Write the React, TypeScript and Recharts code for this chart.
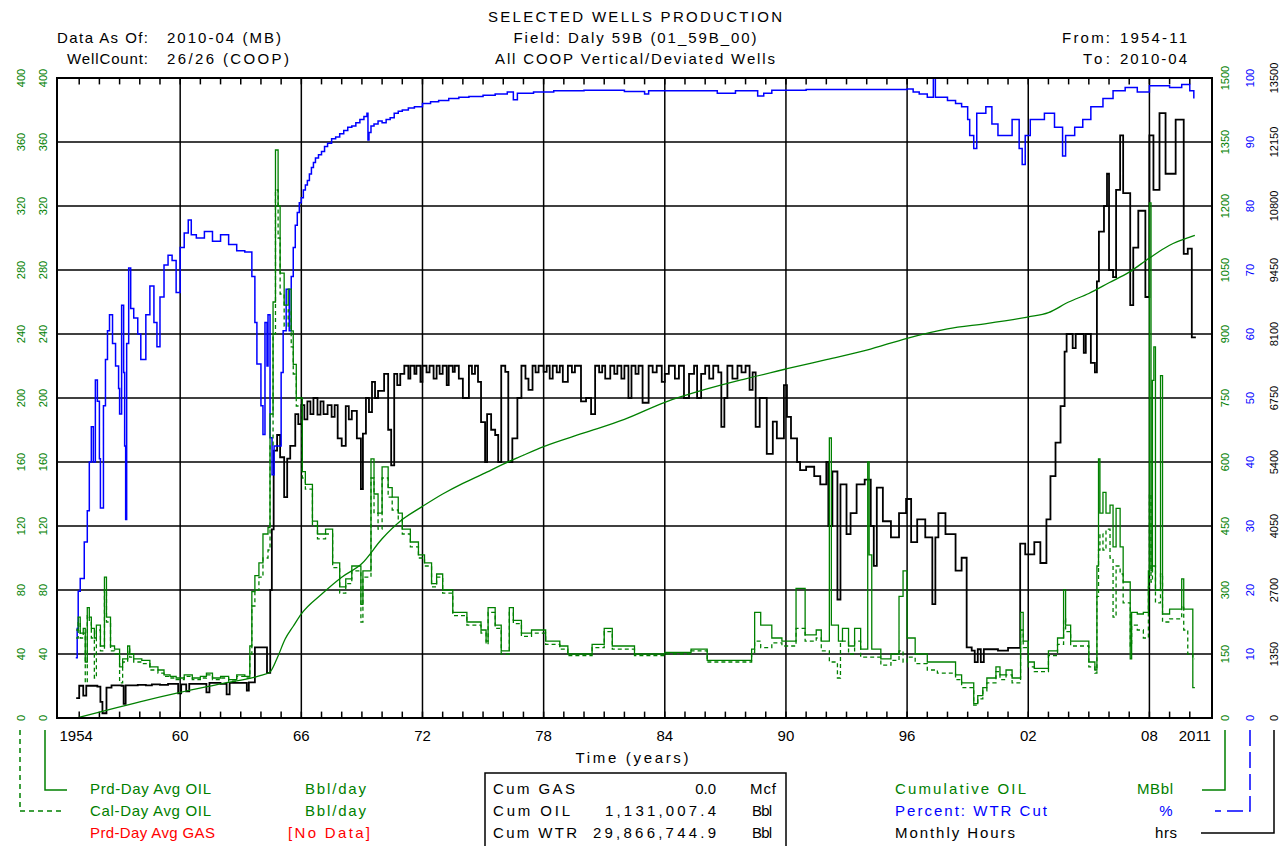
import { ComposedChart, Line, XAxis, YAxis, ReferenceLine } from 'recharts';

const W = 1273;
const H = 838;
const GREEN = '#008000';
const BLUE = '#0000ff';
const RED = '#ff0000';
const FONT = '"Liberation Sans", Arial, sans-serif';

// axis ticks
const OIL_TICKS = [0, 40, 80, 120, 160, 200, 240, 280, 320, 360, 400];
const CUM_TICKS = [0, 150, 300, 450, 600, 750, 900, 1050, 1200, 1350, 1500];
const WTR_TICKS = [0, 10, 20, 30, 40, 50, 60, 70, 80, 90, 100];
const HRS_TICKS = [0, 1350, 2700, 4050, 5400, 6750, 8100, 9450, 10800, 12150, 13500];
const X_LABEL_POS = [1954.85, 1960, 1966, 1972, 1978, 1984, 1990, 1996, 2002, 2008, 2010.25];
const X_LABEL_TEXT = ['1954', '60', '66', '72', '78', '84', '90', '96', '02', '08', '2011'];
const GRID_YEARS = [1960, 1966, 1972, 1978, 1984, 1990, 1996, 2002, 2008];
const MINOR_YEARS = Array.from({ length: 56 }, (_, i) => 1955 + i);

// Monthly Hours (hrs)
const HOURS: [number, number][] = [
  [1954.85, 420], [1955.0, 680], [1955.2, 470], [1955.35, 680], [1955.9, 660], [1956.05, 340], [1956.15, 100],
  [1956.35, 640], [1956.6, 690], [1957.1, 680], [1957.2, 300], [1957.3, 690], [1957.9, 700], [1958.3, 690],
  [1958.6, 710], [1959.0, 700], [1959.4, 720], [1959.9, 520], [1960.05, 710], [1960.3, 560], [1960.45, 720],
  [1961.0, 720], [1961.3, 540], [1961.45, 740], [1962.0, 720], [1962.3, 500], [1962.45, 740], [1963.0, 740],
  [1963.3, 580], [1963.4, 750], [1963.7, 1490], [1964.3, 950], [1964.46, 2700], [1964.54, 3980], [1964.63, 5640],
  [1964.8, 5970], [1964.95, 5500], [1965.15, 4660], [1965.3, 5470], [1965.45, 5740], [1965.7, 6410], [1965.85, 6200],
  [1966.0, 6600], [1966.15, 6300], [1966.3, 6680], [1966.45, 6410], [1966.6, 6750], [1966.8, 6400], [1966.95, 6680],
  [1967.1, 6410], [1967.3, 6600], [1967.5, 6350], [1967.65, 6600], [1967.8, 5900], [1968.0, 5740], [1968.2, 6580],
  [1968.35, 6300], [1968.5, 6480], [1968.75, 5900], [1968.95, 4830], [1969.05, 6000], [1969.2, 6750], [1969.35, 6450],
  [1969.5, 7090], [1969.65, 6750], [1969.8, 6900], [1970.1, 7260], [1970.3, 6080], [1970.45, 5330], [1970.6, 7260],
  [1970.75, 7020], [1970.9, 7260], [1971.1, 7430], [1971.3, 7160], [1971.4, 7430], [1971.6, 7260], [1971.7, 7430],
  [1971.9, 7090], [1972.0, 7430], [1972.2, 7290], [1972.35, 7430], [1972.55, 7160], [1972.7, 7430], [1972.85, 7260],
  [1973.0, 7430], [1973.2, 7020], [1973.3, 7430], [1973.5, 7300], [1973.6, 7430], [1973.8, 7160], [1974.0, 6750],
  [1974.3, 7430], [1974.45, 7260], [1974.6, 7430], [1974.75, 7090], [1974.9, 6240], [1975.1, 5400], [1975.2, 6410],
  [1975.4, 6080], [1975.6, 5970], [1975.75, 5400], [1975.9, 7430], [1976.1, 7300], [1976.25, 5400], [1976.45, 5900],
  [1976.7, 6750], [1976.9, 7430], [1977.1, 7160], [1977.25, 6920], [1977.45, 7430], [1977.6, 7290], [1977.75, 7430],
  [1978.0, 7300], [1978.15, 7430], [1978.3, 7160], [1978.45, 7430], [1978.65, 7290], [1978.8, 7430], [1978.95, 7090],
  [1979.2, 7430], [1979.4, 7290], [1979.55, 7430], [1979.85, 6680], [1980.1, 6750], [1980.35, 6410], [1980.55, 7430],
  [1980.75, 7290], [1980.9, 7430], [1981.05, 7160], [1981.3, 7430], [1981.5, 7260], [1981.65, 7430], [1981.85, 7160],
  [1982.0, 7430], [1982.2, 6750], [1982.35, 7430], [1982.55, 7260], [1982.7, 7430], [1982.9, 6650], [1983.2, 7430],
  [1983.4, 7290], [1983.6, 7430], [1983.85, 7090], [1984.0, 7260], [1984.2, 7430], [1984.5, 7160], [1984.7, 7430],
  [1984.95, 6750], [1985.2, 7260], [1985.45, 7430], [1985.6, 6750], [1985.8, 7260], [1986.0, 7430], [1986.2, 7160],
  [1986.4, 7430], [1986.65, 7290], [1986.8, 6140], [1986.95, 6750], [1987.1, 7430], [1987.35, 7160], [1987.6, 7430],
  [1987.8, 7290], [1988.0, 7430], [1988.2, 6920], [1988.35, 7290], [1988.5, 6140], [1988.7, 6750], [1989.05, 5570],
  [1989.35, 6250], [1989.55, 5900], [1989.9, 7020], [1990.05, 6350], [1990.25, 5900], [1990.55, 5400], [1990.7, 5230],
  [1991.0, 5300], [1991.4, 5100], [1991.7, 4930], [1992.0, 5400], [1992.1, 4050], [1992.3, 5200], [1992.55, 2500],
  [1992.7, 4930], [1993.0, 3880], [1993.2, 4320], [1993.5, 4930], [1993.9, 5030], [1994.2, 4050], [1994.35, 3210],
  [1994.5, 4860], [1994.8, 4150], [1995.2, 3810], [1995.6, 4320], [1995.95, 4620], [1996.2, 3710], [1996.5, 4190],
  [1996.9, 3810], [1997.25, 2400], [1997.4, 3810], [1997.55, 4320], [1997.9, 3880], [1998.4, 3110], [1998.7, 3380],
  [1998.95, 1490], [1999.2, 1420], [1999.35, 1180], [1999.5, 1450], [1999.65, 1180], [1999.8, 1450], [2000.5, 1420],
  [2001.0, 1480], [2001.6, 3680], [2001.85, 3450], [2002.3, 3710], [2002.6, 3270], [2002.9, 4190], [2003.1, 5100],
  [2003.35, 5810], [2003.6, 6580], [2003.8, 7730], [2003.9, 8100], [2004.2, 7800], [2004.35, 8100], [2004.75, 7700],
  [2004.85, 8100], [2005.1, 7490], [2005.3, 7290], [2005.4, 9210], [2005.5, 10260], [2005.75, 10800], [2005.9, 11480],
  [2006.0, 9450], [2006.2, 9300], [2006.35, 11140], [2006.55, 12290], [2006.7, 11070], [2007.05, 8710], [2007.2, 9920],
  [2007.45, 10700], [2007.8, 8880], [2008.0, 12290], [2008.2, 11140], [2008.5, 12760], [2008.8, 11480],
  [2009.3, 12620], [2009.7, 9790], [2009.9, 9900], [2010.1, 8030], [2010.3, 8030],
];

// Percent: WTR Cut (%)
const WTR_CUT: [number, number][] = [
  [1954.83, 9.4], [1954.9, 14], [1954.95, 19.8], [1955.05, 21.8], [1955.25, 27.5], [1955.4, 32.4], [1955.5, 40],
  [1955.6, 45.5], [1955.7, 40], [1955.8, 52.8], [1955.9, 49.5], [1956.0, 40.5], [1956.05, 32.8], [1956.2, 48.8],
  [1956.3, 56], [1956.4, 60.5], [1956.5, 63], [1956.65, 58.5], [1956.8, 55], [1956.95, 51.5], [1957.0, 47.5],
  [1957.1, 64.5], [1957.2, 54], [1957.25, 42.5], [1957.3, 31], [1957.35, 58.5], [1957.45, 70.3], [1957.55, 64],
  [1957.7, 62.5], [1957.9, 60], [1958.05, 56], [1958.3, 63], [1958.5, 67.5], [1958.7, 61.8], [1958.85, 58],
  [1959.0, 65.8], [1959.2, 70.8], [1959.4, 72.3], [1959.6, 71.5], [1959.8, 66.5], [1960.0, 73.5], [1960.2, 75.8],
  [1960.4, 77.8], [1960.55, 75.5], [1960.8, 75], [1961.2, 76], [1961.6, 74.5], [1962.0, 75.5], [1962.4, 74],
  [1962.8, 73], [1963.2, 72.8], [1963.55, 69], [1963.7, 61.8], [1963.8, 55.3], [1964.0, 48.8], [1964.1, 44.3],
  [1964.2, 61.8], [1964.3, 55], [1964.35, 63], [1964.45, 43.8], [1964.55, 38], [1964.65, 42.5], [1964.9, 42.5],
  [1965.0, 54], [1965.1, 60.5], [1965.25, 67], [1965.4, 60.5], [1965.5, 69], [1965.6, 73.5], [1965.7, 77],
  [1965.8, 79], [1965.9, 80.5], [1966.0, 81.3], [1966.1, 82.5], [1966.2, 83.3], [1966.3, 84], [1966.4, 85],
  [1966.5, 86], [1966.6, 86.8], [1966.7, 87.5], [1966.85, 88], [1967.0, 88.5], [1967.15, 89.3], [1967.3, 89.8],
  [1967.5, 90.5], [1967.7, 90.8], [1967.9, 91.3], [1968.1, 91.8], [1968.3, 92.3], [1968.5, 92.5], [1968.7, 93],
  [1968.9, 93.5], [1969.1, 94], [1969.25, 94.5], [1969.3, 90.3], [1969.35, 91.5], [1969.45, 92.5], [1969.6, 92.8],
  [1969.8, 93.3], [1970.0, 93], [1970.2, 93.5], [1970.4, 93.8], [1970.6, 94.5], [1970.8, 94.8], [1971.0, 95],
  [1971.3, 95.3], [1971.6, 95.5], [1972.0, 96], [1972.4, 96.3], [1972.8, 96.5], [1973.3, 96.8], [1973.8, 97],
  [1974.3, 97.1], [1975.0, 97.3], [1975.6, 97.5], [1976.2, 97.8], [1976.5, 96.6], [1976.7, 97.6], [1977.5, 97.8],
  [1978.5, 98], [1980.0, 98.1], [1982.0, 97.9], [1983.0, 97.5], [1983.2, 98], [1986.6, 97.6], [1987.5, 98],
  [1988.6, 97.2], [1988.9, 97.6], [1989.3, 98.1], [1991.0, 98.2], [1996.0, 98.3], [1996.3, 97.8], [1996.6, 97.5],
  [1997.0, 97], [1997.3, 100], [1997.4, 97], [1998.0, 96.5], [1998.4, 96], [1998.7, 95.5], [1999.0, 93.5],
  [1999.1, 91], [1999.3, 89], [1999.45, 94.5], [1999.9, 95.5], [2000.2, 92.8], [2000.5, 91], [2001.2, 93.5],
  [2001.55, 89], [2001.7, 86.5], [2001.85, 91], [2002.1, 93.5], [2002.8, 94.5], [2003.3, 92.3], [2003.7, 87.8],
  [2003.85, 91], [2004.3, 92.3], [2004.7, 93.5], [2005.1, 95.5], [2005.7, 96.8], [2006.2, 98], [2006.8, 98.5],
  [2007.4, 97.8], [2008.0, 98.8], [2009.0, 98.5], [2009.6, 99], [2010.0, 98], [2010.2, 96.8],
];

// Cumulative OIL (MBbl)
const CUM_OIL: [number, number][] = [
  [1954.85, 0], [1956, 14], [1958, 38], [1960, 60], [1962, 80], [1964, 100], [1964.45, 108], [1964.8, 140],
  [1965.2, 185], [1965.6, 215], [1966, 244], [1967, 290], [1968, 330], [1969, 362], [1970, 420], [1971, 465],
  [1972, 496], [1973, 525], [1974, 550], [1975, 572], [1976, 595], [1977, 616], [1978, 636], [1980, 668],
  [1982, 700], [1984, 740], [1986, 770], [1988, 795], [1990, 818], [1992, 840], [1994, 862], [1996, 890],
  [1998, 912], [2000, 925], [2002, 940], [2003, 950], [2004, 975], [2005, 995], [2006, 1020], [2007, 1045],
  [2008, 1078], [2009, 1108], [2010, 1127], [2010.25, 1131],
];

// Prd-Day Avg OIL (Bbl/day)
const PRD_OIL: [number, number][] = [
  [1954.85, 55], [1954.95, 63], [1955.05, 53], [1955.2, 56], [1955.3, 35], [1955.4, 69], [1955.5, 63], [1955.6, 56],
  [1955.75, 50], [1955.85, 58], [1956.05, 45], [1956.25, 88], [1956.35, 63], [1956.55, 45], [1956.75, 43],
  [1957.0, 32], [1957.15, 37], [1957.4, 45], [1957.5, 40], [1957.7, 37], [1958.1, 36], [1958.5, 32], [1958.9, 30],
  [1959.2, 27], [1959.5, 26], [1959.8, 25], [1960.2, 27], [1960.6, 25], [1961.0, 26], [1961.3, 28], [1961.6, 25],
  [1962.0, 26], [1962.4, 24], [1962.8, 27], [1963.2, 26], [1963.45, 45], [1963.55, 79], [1963.7, 89], [1963.9, 97],
  [1964.1, 115], [1964.35, 119], [1964.45, 190], [1964.6, 260], [1964.72, 355], [1964.85, 320], [1964.95, 278],
  [1965.15, 258], [1965.35, 268], [1965.5, 242], [1965.6, 221], [1965.75, 200], [1966.05, 154], [1966.2, 146],
  [1966.55, 123], [1966.8, 115], [1967.2, 118], [1967.55, 97], [1967.9, 82], [1968.2, 87], [1968.5, 95],
  [1968.95, 71], [1969.05, 92], [1969.45, 162], [1969.6, 140], [1969.8, 128], [1970.0, 157], [1970.3, 144],
  [1970.5, 138], [1970.8, 128], [1971.0, 118], [1971.4, 110], [1971.8, 102], [1972.1, 97], [1972.45, 84],
  [1972.7, 90], [1973.0, 80], [1973.5, 66], [1974.2, 60], [1974.9, 55], [1975.15, 48], [1975.25, 69], [1975.6, 58],
  [1975.9, 42], [1976.3, 69], [1976.5, 61], [1976.9, 53], [1977.4, 55], [1978.1, 48], [1978.8, 45], [1979.2, 40],
  [1980.4, 46], [1981.0, 56], [1981.4, 45], [1982.5, 40], [1984.0, 41], [1985.3, 43], [1986.1, 36], [1988.3, 43],
  [1988.45, 66], [1988.75, 58], [1989.3, 50], [1989.8, 48], [1990.5, 81], [1990.95, 52], [1991.5, 55], [1991.75, 48],
  [1992.15, 175], [1992.25, 58], [1992.6, 48], [1992.8, 56], [1993.1, 45], [1993.4, 56], [1993.7, 43], [1994.05, 160],
  [1994.12, 102], [1994.25, 43], [1994.7, 37], [1995.2, 40], [1995.6, 76], [1995.8, 92], [1996.0, 50], [1996.4, 40],
  [1997.0, 35], [1998.4, 27], [1998.7, 22], [1999.3, 9], [1999.5, 14], [1999.75, 19], [1999.95, 25], [2000.4, 32],
  [2000.6, 27], [2000.9, 30], [2001.2, 25], [2001.62, 66], [2001.75, 48], [2002.0, 35], [2002.3, 31], [2003.0, 42],
  [2003.45, 50], [2003.75, 80], [2003.85, 58], [2004.1, 48], [2005.0, 35], [2005.3, 30], [2005.4, 95], [2005.48, 162],
  [2005.55, 128], [2005.7, 141], [2005.85, 128], [2006.05, 133], [2006.2, 107], [2006.35, 131], [2006.55, 107],
  [2006.7, 85], [2007.05, 37], [2007.12, 66], [2007.4, 65], [2007.7, 66], [2007.95, 92], [2008.0, 322], [2008.08, 92],
  [2008.15, 211], [2008.22, 232], [2008.3, 80], [2008.55, 214], [2008.65, 65], [2009.0, 68], [2009.6, 87],
  [2009.7, 68], [2010.15, 19], [2010.25, 19],
];

// Cal-Day Avg OIL (Bbl/day)
const CAL_OIL: [number, number][] = [
  [1954.85, 50], [1954.95, 60], [1955.05, 50], [1955.2, 53], [1955.3, 22], [1955.4, 64], [1955.5, 60], [1955.6, 50],
  [1955.75, 25], [1955.85, 55], [1956.05, 42], [1956.25, 80], [1956.35, 60], [1956.55, 42], [1956.75, 40],
  [1957.0, 22], [1957.15, 35], [1957.4, 43], [1957.5, 38], [1957.7, 35], [1958.1, 34], [1958.5, 30], [1958.9, 28],
  [1959.2, 26], [1959.5, 25], [1959.8, 24], [1960.2, 26], [1960.6, 24], [1961.0, 25], [1961.3, 27], [1961.6, 24],
  [1962.0, 25], [1962.4, 23], [1962.8, 26], [1963.2, 25], [1963.45, 40], [1963.55, 70], [1963.7, 80], [1963.9, 88],
  [1964.1, 100], [1964.35, 105], [1964.45, 170], [1964.6, 240], [1964.72, 330], [1964.85, 300], [1964.95, 265],
  [1965.15, 245], [1965.35, 255], [1965.5, 232], [1965.6, 215], [1965.75, 195], [1966.05, 150], [1966.2, 143],
  [1966.55, 120], [1966.8, 112], [1967.2, 115], [1967.55, 94], [1967.9, 78], [1968.2, 84], [1968.5, 92],
  [1968.95, 60], [1969.05, 88], [1969.45, 150], [1969.6, 128], [1969.8, 118], [1970.0, 150], [1970.3, 138],
  [1970.5, 130], [1970.8, 124], [1971.0, 115], [1971.4, 107], [1971.8, 100], [1972.1, 95], [1972.45, 82],
  [1972.7, 88], [1973.0, 78], [1973.5, 64], [1974.2, 58], [1974.9, 53], [1975.15, 46], [1975.25, 66], [1975.6, 56],
  [1975.9, 40], [1976.3, 66], [1976.5, 59], [1976.9, 51], [1977.4, 53], [1978.1, 46], [1978.8, 43], [1979.2, 39],
  [1980.4, 44], [1981.0, 54], [1981.4, 43], [1982.5, 39], [1984.0, 40], [1985.3, 42], [1986.1, 35], [1988.3, 41],
  [1988.45, 48], [1988.75, 44], [1989.3, 47], [1989.8, 45], [1990.5, 56], [1990.95, 48], [1991.5, 50], [1991.75, 42],
  [1992.15, 35], [1992.55, 25], [1992.7, 48], [1993.1, 40], [1993.4, 48], [1993.7, 38], [1994.25, 38], [1994.7, 33],
  [1995.2, 36], [1995.6, 42], [1995.8, 35], [1996.0, 38], [1996.4, 34], [1997.0, 30], [1997.5, 28], [1998.4, 24],
  [1998.7, 19], [1999.3, 8], [1999.5, 12], [1999.75, 17], [1999.95, 22], [2000.4, 29], [2000.6, 24], [2000.9, 27],
  [2001.2, 22], [2001.62, 55], [2001.75, 44], [2002.0, 32], [2002.3, 29], [2003.0, 39], [2003.45, 46], [2003.75, 62],
  [2003.85, 54], [2004.1, 45], [2005.0, 32], [2005.3, 28], [2005.4, 76], [2005.48, 105], [2005.55, 115],
  [2005.7, 105], [2005.85, 118], [2006.05, 100], [2006.2, 63], [2006.35, 95], [2006.55, 90], [2006.7, 72],
  [2007.05, 45], [2007.12, 58], [2007.4, 55], [2007.7, 50], [2007.95, 82], [2008.0, 140], [2008.08, 85],
  [2008.15, 95], [2008.3, 72], [2008.55, 90], [2008.65, 60], [2009.0, 62], [2009.6, 70], [2009.7, 55],
  [2009.9, 40], [2010.15, 37], [2010.25, 37],
];

const toRows = (pts: [number, number][]) => pts.map(([t, v]) => ({ t, v }));

function YTick({ x, y, payload, dx, color }: any) {
  const cx = x + dx;
  return (
    <text
      x={cx}
      y={y}
      transform={`rotate(-90 ${cx} ${y})`}
      textAnchor="middle"
      dominantBaseline="central"
      fill={color}
      fontSize={11}
      fontFamily={FONT}
    >
      {payload.value}
    </text>
  );
}

function XTick({ x, y, payload }: any) {
  const i = X_LABEL_POS.indexOf(payload.value);
  return (
    <text x={x} y={y + 23} textAnchor="middle" fontSize={15} fontFamily={FONT} fill="#000">
      {i >= 0 ? X_LABEL_TEXT[i] : ''}
    </text>
  );
}

function Txt({ x, y, w, anchor = 'start', color = '#000', children }: any) {
  return (
    <text
      x={x}
      y={y}
      textLength={w}
      lengthAdjust={w ? 'spacing' : undefined}
      textAnchor={anchor}
      fill={color}
      fontSize={15}
      fontFamily={FONT}
    >
      {children}
    </text>
  );
}

function Overlay() {
  return (
    <svg width={W} height={H} style={{ position: 'absolute', left: 0, top: 0, pointerEvents: 'none' }}>
      <rect x={49} y={70} width={1155} height={640} fill="none" stroke="#000" strokeWidth={2} />

      <Txt x={627} y={14} w={294} anchor="middle">SELECTED WELLS PRODUCTION</Txt>
      <Txt x={627} y={35} w={243} anchor="middle">Field: Daly 59B (01_59B_00)</Txt>
      <Txt x={627} y={56} w={280} anchor="middle">All COOP Vertical/Deviated Wells</Txt>
      <Txt x={140} y={35} w={91} anchor="end">Data As Of:</Txt>
      <Txt x={159} y={35} w={114}>2010-04 (MB)</Txt>
      <Txt x={140} y={56} w={81} anchor="end">WellCount:</Txt>
      <Txt x={159} y={56} w={122}>26/26 (COOP)</Txt>
      <Txt x={1102} y={35} w={48} anchor="end">From:</Txt>
      <Txt x={1112} y={35} w={67}>1954-11</Txt>
      <Txt x={1102} y={56} w={27} anchor="end">To:</Txt>
      <Txt x={1112} y={56} w={67}>2010-04</Txt>

      <Txt x={624} y={755} w={113} anchor="middle">Time (years)</Txt>

      {/* left legend */}
      <polyline points="37,722 37,782 59,782" fill="none" stroke={GREEN} strokeWidth={1.5} />
      <polyline points="12,722 12,803 55,803" fill="none" stroke={GREEN} strokeWidth={1.5} strokeDasharray="5 4" />
      <Txt x={82} y={786} w={121} color={GREEN}>Prd-Day Avg OIL</Txt>
      <Txt x={297} y={786} w={61} color={GREEN}>Bbl/day</Txt>
      <Txt x={82} y={808} w={121} color={GREEN}>Cal-Day Avg OIL</Txt>
      <Txt x={297} y={808} w={61} color={GREEN}>Bbl/day</Txt>
      <Txt x={82} y={830} w={125} color={RED}>Prd-Day Avg GAS</Txt>
      <Txt x={280} y={830} w={82} color={RED}>[No Data]</Txt>

      {/* totals box */}
      <rect x={477} y={765} width={301} height={90} fill="none" stroke="#000" strokeWidth={1.5} />
      <Txt x={485} y={786} w={82}>Cum GAS</Txt>
      <Txt x={708} y={786} anchor="end">0.0</Txt>
      <Txt x={742} y={786} w={26}>Mcf</Txt>
      <Txt x={485} y={808} w={77}>Cum OIL</Txt>
      <Txt x={708} y={808} w={111} anchor="end">1,131,007.4</Txt>
      <Txt x={744} y={808} w={20}>Bbl</Txt>
      <Txt x={485} y={830} w={84}>Cum WTR</Txt>
      <Txt x={708} y={830} w={123} anchor="end">29,866,744.9</Txt>
      <Txt x={744} y={830} w={20}>Bbl</Txt>

      {/* right legend */}
      <Txt x={887} y={786} w={131} color={GREEN}>Cumulative OIL</Txt>
      <Txt x={1165} y={786} w={36} anchor="end" color={GREEN}>MBbl</Txt>
      <Txt x={887} y={808} w={152} color={BLUE}>Percent: WTR Cut</Txt>
      <Txt x={1158} y={808} anchor="middle" color={BLUE}>%</Txt>
      <Txt x={887} y={830} w={120}>Monthly Hours</Txt>
      <Txt x={1169} y={830} w={22} anchor="end">hrs</Txt>
      <polyline points="1217,722 1217,782 1194,782" fill="none" stroke={GREEN} strokeWidth={1.5} />
      <polyline points="1242,722 1242,803 1207,803" fill="none" stroke={BLUE} strokeWidth={1.5} strokeDasharray="16 6" />
      <polyline points="1266,722 1266,825 1193,825" fill="none" stroke="#000" strokeWidth={1.5} />
    </svg>
  );
}

export default function App() {
  return (
    <div style={{ position: 'fixed', left: 8, top: 8, width: W, height: H, background: '#fff' }}>
      <ComposedChart width={W} height={H} margin={{ top: 70, right: 0, bottom: 0, left: 0 }}>
        <XAxis
          dataKey="t"
          type="number"
          domain={[1953.9, 2011.1]}
          allowDataOverflow
          ticks={X_LABEL_POS}
          interval={0}
          tick={<XTick />}
          tickLine={false}
          axisLine={false}
          tickSize={0}
          tickMargin={0}
          height={128}
        />
        <YAxis yAxisId="a_cal" orientation="left" width={24} domain={[0, 400]} ticks={OIL_TICKS} interval={0}
          tick={<YTick dx={-14} color={GREEN} />} tickLine={false} axisLine={false} tickSize={0} tickMargin={0} />
        <YAxis yAxisId="b_prd" orientation="left" width={25} domain={[0, 400]} ticks={OIL_TICKS} interval={0}
          tick={<YTick dx={-12} color={GREEN} />} tickLine={false} axisLine={false} tickSize={0} tickMargin={0} />
        <YAxis yAxisId="c_cum" orientation="right" width={23} domain={[0, 1500]} ticks={CUM_TICKS} interval={0}
          tick={<YTick dx={13} color={GREEN} />} tickLine={false} axisLine={false} tickSize={0} tickMargin={0} />
        <YAxis yAxisId="d_wtr" orientation="right" width={23} domain={[0, 100]} ticks={WTR_TICKS} interval={0}
          tick={<YTick dx={15} color={BLUE} />} tickLine={false} axisLine={false} tickSize={0} tickMargin={0} />
        <YAxis yAxisId="e_hrs" orientation="right" width={23} domain={[0, 13500]} ticks={HRS_TICKS} interval={0}
          tick={<YTick dx={16} color="#000" />} tickLine={false} axisLine={false} tickSize={0} tickMargin={0} />

        {OIL_TICKS.slice(1, -1).map((v) => (
          <ReferenceLine key={`h${v}`} yAxisId="b_prd" y={v} stroke="#000" strokeWidth={1.5} />
        ))}
        {GRID_YEARS.map((yr) => (
          <ReferenceLine key={`v${yr}`} yAxisId="b_prd" x={yr} stroke="#000" strokeWidth={1.5} />
        ))}
        {MINOR_YEARS.map((yr) => (
          <ReferenceLine key={`b${yr}`} yAxisId="b_prd" segment={[{ x: yr, y: 0 }, { x: yr, y: 4 }]} stroke="#000" strokeWidth={1.5} />
        ))}
        {MINOR_YEARS.map((yr) => (
          <ReferenceLine key={`t${yr}`} yAxisId="b_prd" segment={[{ x: yr, y: 396 }, { x: yr, y: 400 }]} stroke="#000" strokeWidth={1.5} />
        ))}

        <Line yAxisId="e_hrs" data={toRows(HOURS)} dataKey="v" type="stepAfter" stroke="#000" strokeWidth={1.8}
          dot={false} isAnimationActive={false} />
        <Line yAxisId="d_wtr" data={toRows(WTR_CUT)} dataKey="v" type="stepAfter" stroke={BLUE} strokeWidth={1.5}
          dot={false} isAnimationActive={false} />
        <Line yAxisId="c_cum" data={toRows(CUM_OIL)} dataKey="v" type="monotone" stroke={GREEN} strokeWidth={1.3}
          dot={false} isAnimationActive={false} />
        <Line yAxisId="a_cal" data={toRows(CAL_OIL)} dataKey="v" type="stepAfter" stroke={GREEN} strokeWidth={1.3}
          strokeDasharray="4 3" dot={false} isAnimationActive={false} />
        <Line yAxisId="b_prd" data={toRows(PRD_OIL)} dataKey="v" type="stepAfter" stroke={GREEN} strokeWidth={1.3}
          dot={false} isAnimationActive={false} />
      </ComposedChart>
      <Overlay />
    </div>
  );
}
